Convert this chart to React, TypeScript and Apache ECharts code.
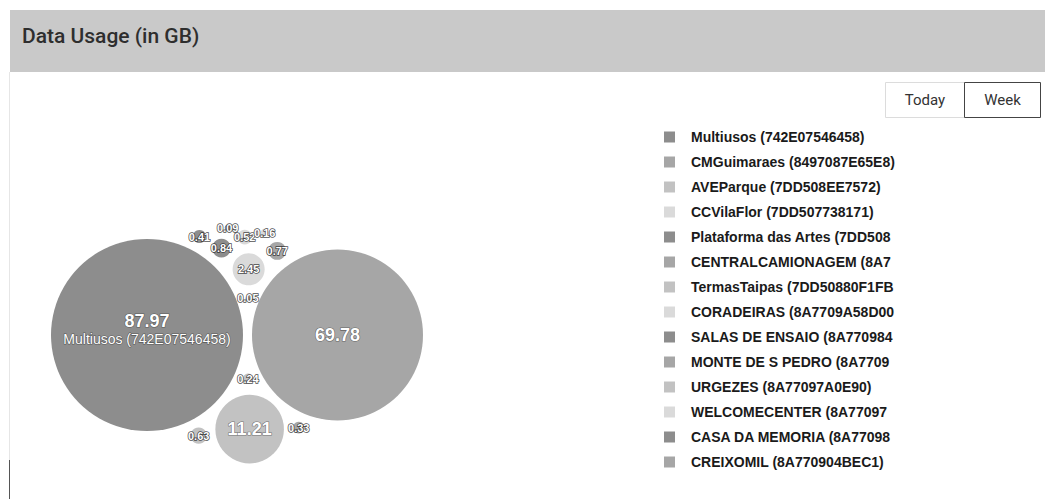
import React, { useEffect, useRef } from "react";
import * as echarts from "echarts";

const TITLE = "Data Usage (in GB)";
const BUTTONS = ["Today", "Week"];

const names = [
  "Multiusos (742E07546458)",
  "CMGuimaraes (8497087E65E8)",
  "AVEParque (7DD508EE7572)",
  "CCVilaFlor (7DD507738171)",
  "Plataforma das Artes (7DD508F2B51A)",
  "CENTRALCAMIONAGEM (8A77092F8F9A)",
  "TermasTaipas (7DD50880F1FB)",
  "CORADEIRAS (8A7709A58D00)",
  "SALAS DE ENSAIO (8A7709844B26)",
  "MONTE DE S PEDRO (8A77094A1462)",
  "URGEZES (8A77097A0E90)",
  "WELCOMECENTER (8A77097D4819)",
  "CASA DA MEMORIA (8A770988F9F8)",
  "CREIXOMIL (8A770904BEC1)",
];

const values = [87.97, 69.78, 11.21, 2.45, 0.84, 0.77, 0.63, 0.52, 0.41, 0.33, 0.24, 0.16, 0.09, 0.05];

const palette = ["#8d8d8d", "#a6a6a6", "#c2c2c2", "#dadada"];

// Style constants
const MAX_R = 96;
const GAP = 9;
const ORIGIN_X = 147;
const ORIGIN_Y = 335;
const W = 1045;
const H = 499;

type P = { x: number; y: number };

function packCircles(radii: number[], gap: number): P[] {
  const n = radii.length;
  const pos: P[] = new Array(n);
  const order = radii.map((_, i) => i).sort((a, b) => radii[b] - radii[a]);
  const placed: number[] = [];
  if (n === 0) return pos;
  pos[order[0]] = { x: 0, y: 0 };
  placed.push(order[0]);
  if (n > 1) {
    pos[order[1]] = { x: radii[order[0]] + radii[order[1]] + gap, y: 0 };
    placed.push(order[1]);
  }
  for (let k = 2; k < n; k++) {
    const c = order[k];
    const rc = radii[c];
    let sx = 0, sy = 0, sw = 0;
    for (const p of placed) {
      const w = radii[p] * radii[p];
      sx += pos[p].x * w;
      sy += pos[p].y * w;
      sw += w;
    }
    const gx = sx / sw, gy = sy / sw;
    let best: P | null = null;
    let bestD = Infinity;
    for (let i = 0; i < placed.length; i++) {
      for (let j = i + 1; j < placed.length; j++) {
        const a = placed[i], b = placed[j];
        const da = radii[a] + rc + gap, db = radii[b] + rc + gap;
        const dx = pos[b].x - pos[a].x, dy = pos[b].y - pos[a].y;
        const d = Math.hypot(dx, dy);
        if (d === 0 || d > da + db || d < Math.abs(da - db)) continue;
        const l = (da * da - db * db + d * d) / (2 * d);
        const h = Math.sqrt(Math.max(0, da * da - l * l));
        const mx = pos[a].x + (dx * l) / d, my = pos[a].y + (dy * l) / d;
        for (const s of [1, -1]) {
          const cand = { x: mx - (s * dy * h) / d, y: my + (s * dx * h) / d };
          let ok = true;
          for (const p of placed) {
            if (Math.hypot(cand.x - pos[p].x, cand.y - pos[p].y) < radii[p] + rc + gap - 1e-6) {
              ok = false;
              break;
            }
          }
          if (!ok) continue;
          const dist = Math.hypot(cand.x - gx, cand.y - gy);
          if (dist < bestD - 1e-9) {
            bestD = dist;
            best = cand;
          }
        }
      }
    }
    pos[c] = best || { x: 0, y: 0 };
    placed.push(c);
  }
  return pos;
}

export default function App() {
  const ref = useRef<HTMLDivElement>(null);
  useEffect(() => {
    if (!ref.current) return;
    const chart = echarts.init(ref.current, undefined, { renderer: "svg" });
    const vmax = Math.max(...values);
    const radii = values.map((v) => MAX_R * Math.sqrt(v / vmax));
    const pos = packCircles(radii, GAP);

    const outline = "rgba(40,40,40,0.55)";
    const series = names.map((name, i) => ({
      type: "scatter",
      name,
      data: [[pos[i].x, pos[i].y, values[i]]],
      symbol: "circle",
      symbolSize: radii[i] * 2,
      itemStyle: { color: palette[i % palette.length], opacity: 1 },
      label: {
        show: true,
        position: "inside",
        offset: i === 0 ? [0, -6] : [0, 0],
        color: "#ffffff",
        fontFamily: "Liberation Sans, Arial, sans-serif",
        textBorderColor: outline,
        textBorderWidth: 1.2,
        formatter: () =>
          i === 0
            ? `{v|${values[i]}}\n{n|${name}}`
            : radii[i] >= 30
            ? `{v|${values[i]}}`
            : `{s|${values[i]}}`,
        rich: {
          v: { fontSize: 18, fontWeight: "bold", color: "#fff", lineHeight: 19, textBorderColor: outline, textBorderWidth: 1.2 },
          n: { fontSize: 14, fontWeight: "normal", color: "#fff", lineHeight: 17, textBorderColor: outline, textBorderWidth: 1.2 },
          s: { fontSize: 11, fontWeight: "bold", color: "#fff", textBorderColor: "rgba(30,30,30,0.8)", textBorderWidth: 1.5 },
        },
      },
      emphasis: { disabled: true },
      z: 2,
    }));

    chart.setOption({
      animation: false,
      backgroundColor: "#ffffff",
      grid: { left: 0, top: 0, width: W, height: H, containLabel: false },
      xAxis: { type: "value", min: -ORIGIN_X, max: W - ORIGIN_X, show: false },
      yAxis: { type: "value", inverse: true, min: -ORIGIN_Y, max: H - ORIGIN_Y, show: false },
      legend: {
        orient: "vertical",
        left: 659,
        top: 125,
        itemWidth: 11,
        itemHeight: 11,
        itemGap: 11,
        icon: "rect",
        data: names,
        textStyle: {
          fontFamily: "Liberation Sans, Arial, sans-serif",
          fontWeight: "bold",
          fontSize: 14,
          color: "#1a1a1a",
          width: 207,
          overflow: "truncate",
          ellipsis: "",
          padding: [0, 0, 0, 11],
        },
      },
      graphic: [
        { type: "rect", left: 10, top: 10, shape: { width: W - 10, height: 62 }, style: { fill: "#c9c9c9" }, z: 0 },
        { type: "line", shape: { x1: 9.5, y1: 72, x2: 9.5, y2: 460 }, style: { stroke: "#e6e6e6", lineWidth: 1 }, z: 0 },
        { type: "line", shape: { x1: 9.5, y1: 460, x2: 9.5, y2: 499 }, style: { stroke: "#555", lineWidth: 1 }, z: 0 },
        {
          type: "text",
          left: 22,
          top: 25,
          style: { text: TITLE, fill: "#2e2e2e", font: "500 21px Roboto, sans-serif" },
          z: 5,
        },
        { type: "rect", shape: { x: 885.5, y: 82.5, width: 79, height: 35 }, style: { fill: "#fff", stroke: "#dcdcdc", lineWidth: 1 }, z: 5 },
        { type: "rect", shape: { x: 964.5, y: 82.5, width: 76, height: 35 }, style: { fill: "#fff", stroke: "#444", lineWidth: 1 }, z: 6 },
        {
          type: "text",
          x: 925,
          y: 100,
          style: { text: BUTTONS[0], fill: "#333", font: "15px Roboto, sans-serif", align: "center", verticalAlign: "middle" },
          z: 7,
        },
        {
          type: "text",
          x: 1002.5,
          y: 100,
          style: { text: BUTTONS[1], fill: "#333", font: "15px Roboto, sans-serif", align: "center", verticalAlign: "middle" },
          z: 7,
        },
      ],
      series,
    });
    return () => chart.dispose();
  }, []);
  return (
    <div
      ref={ref}
      style={{ position: "fixed", left: 0, top: 0, width: W, height: H }}
    />
  );
}
